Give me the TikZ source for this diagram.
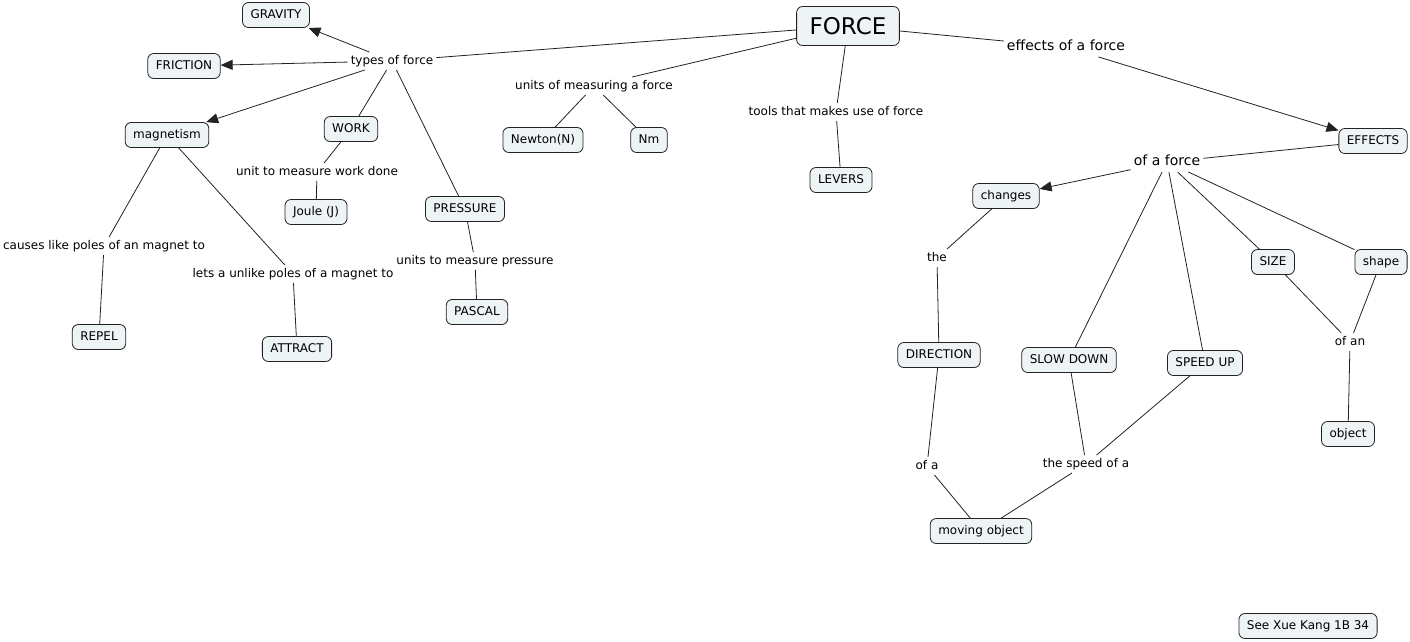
\documentclass[tikz,border=0pt]{standalone}
\usepackage{fontspec}
\setmainfont{DejaVu Sans}
\usetikzlibrary{arrows.meta}
\definecolor{boxfill}{HTML}{EEF3F6}
\definecolor{linec}{HTML}{222222}
\begin{document}
\begin{tikzpicture}[x=1pt,y=-1pt,
 every node/.style={yshift=-1pt},
 box/.style={draw=linec, fill=boxfill, rounded corners=6pt, font=\fontsize{12}{14}\selectfont, inner xsep=8pt, minimum height=25pt, text height=9pt, text depth=2.5pt, line width=0.8pt},
 bigbox/.style={box, font=\fontsize{23}{26}\selectfont, inner xsep=13pt, minimum height=39pt, text height=17pt, text depth=1pt},
 lab/.style={font=\fontsize{12}{14}\selectfont, inner sep=3pt, text height=9pt, text depth=2.5pt},
 biglab/.style={lab, font=\fontsize{14}{16}\selectfont, text height=10.5pt, text depth=3pt},
 con/.style={draw=linec, line width=0.8pt},
 arr/.style={con, -{Triangle[length=12pt,width=10pt]}}]
\useasboundingbox (0,0) rectangle (1410,641);
% nodes
\node[bigbox] (force) at (848,25) {FORCE};
\node[box] (gravity) at (276,14) {GRAVITY};
\node[box] (friction) at (184,65) {FRICTION};
\node[lab] (types) at (392,60) {types of force};
\node[box] (magnet) at (167,134) {magnetism};
\node[box] (work) at (351,128) {WORK};
\node[lab] (unitwork) at (317,171) {unit to measure work done};
\node[box] (joule) at (316,211) {Joule (J)};
\node[box] (pressure) at (465,208) {PRESSURE};
\node[lab] (unitpres) at (475,260) {units to measure pressure};
\node[box] (pascal) at (477,311) {PASCAL};
\node[lab] (causes) at (104,245) {causes like poles of an magnet to};
\node[box] (repel) at (99,336) {REPEL};
\node[lab] (lets) at (293,273) {lets a unlike poles of a magnet to};
\node[box] (attract) at (297,348) {ATTRACT};
\node[lab] (unitsforce) at (594,85) {units of measuring a force};
\node[box] (newton) at (543,139) {Newton(N)};
\node[box] (nm) at (649,139) {Nm};
\node[lab] (tools) at (836,111) {tools that makes use of force};
\node[box] (levers) at (841,179) {LEVERS};
\node[biglab] (effectsof) at (1066,46) {effects of a force};
\node[box] (effects) at (1373,140) {EFFECTS};
\node[biglab] (ofaforce) at (1167,161) {of a force};
\node[box] (changes) at (1006,195) {changes};
\node[lab] (the) at (937,257) {the};
\node[box] (direction) at (939,354) {DIRECTION};
\node[lab] (ofa) at (927,465) {of a};
\node[box] (moving) at (981,530) {moving object};
\node[box] (slow) at (1069,359) {SLOW DOWN};
\node[box] (speed) at (1205,362) {SPEED UP};
\node[lab] (speedofa) at (1086,463) {the speed of a};
\node[box] (size) at (1273,261) {SIZE};
\node[box] (shape) at (1381,261) {shape};
\node[lab] (ofan) at (1350,341) {of an};
\node[box] (object) at (1348,433) {object};
\node[box] (see) at (1308,625) {See Xue Kang 1B 34};
% connectors
\draw[con] (force) -- (types);
\draw[arr] (types) -- (gravity);
\draw[arr] (types) -- (friction);
\draw[arr] (types) -- (magnet);
\draw[con] (types) -- (work);
\draw[con] (types) -- (pressure);
\draw[con] (work) -- (unitwork);
\draw[con] (unitwork) -- (joule);
\draw[con] (pressure) -- (unitpres);
\draw[con] (unitpres) -- (pascal);
\draw[con] (magnet) -- (causes);
\draw[con] (causes) -- (repel);
\draw[con] (magnet) -- (lets);
\draw[con] (lets) -- (attract);
\draw[con] (force) -- (unitsforce);
\draw[con] (unitsforce) -- (newton);
\draw[con] (unitsforce) -- (nm);
\draw[con] (force) -- (tools);
\draw[con] (tools) -- (levers);
\draw[con] (force) -- (effectsof);
\draw[arr] (effectsof) -- (effects);
\draw[con] (effects) -- (ofaforce);
\draw[arr] (ofaforce) -- (changes);
\draw[con] (ofaforce) -- (slow);
\draw[con] (ofaforce) -- (speed);
\draw[con] (ofaforce) -- (size);
\draw[con] (ofaforce) -- (shape);
\draw[con] (changes) -- (the);
\draw[con] (the) -- (direction);
\draw[con] (direction) -- (ofa);
\draw[con] (ofa) -- (moving);
\draw[con] (slow) -- (speedofa);
\draw[con] (speed) -- (speedofa);
\draw[con] (speedofa) -- (moving);
\draw[con] (size) -- (ofan);
\draw[con] (shape) -- (ofan);
\draw[con] (ofan) -- (object);
\end{tikzpicture}
\end{document}
